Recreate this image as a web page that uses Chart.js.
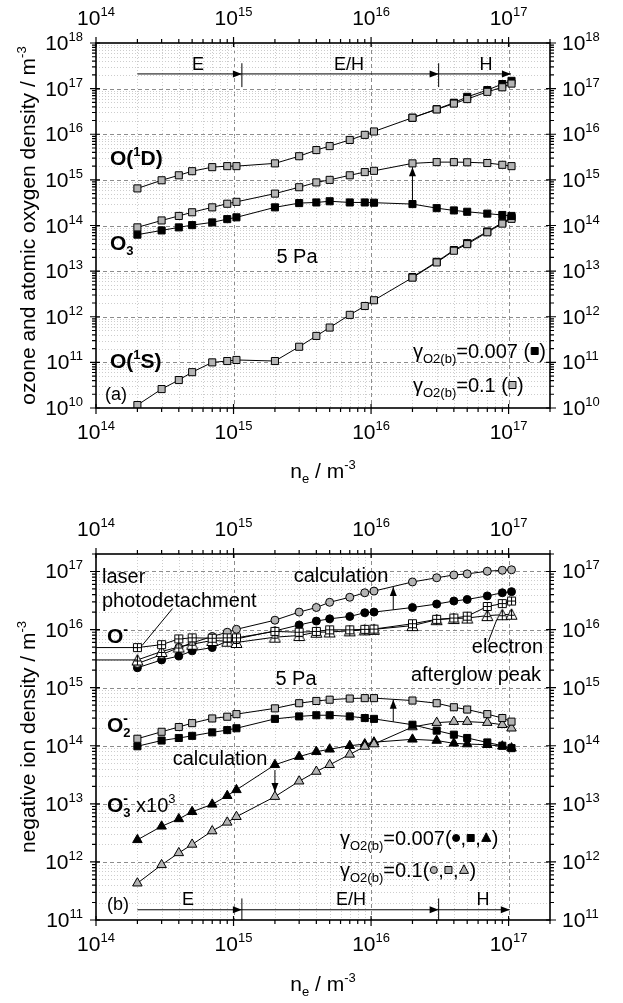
<!DOCTYPE html>
<html>
<head>
<meta charset="utf-8">
<script src="https://cdn.jsdelivr.net/npm/chart.js@4.4.0/dist/chart.umd.min.js"></script>
<style>
  html, body { margin: 0; padding: 0; background: #fff; }
  #wrap { position: relative; width: 623px; height: 1003px; }
  canvas { position: absolute; left: 0; }
  #chartA { top: 0; }
  #chartB { top: 500px; }
</style>
</head>
<body>
<div id="wrap">
  <canvas id="chartA" width="623" height="500" style="width:623px;height:500px"></canvas>
  <canvas id="chartB" width="623" height="503" style="width:623px;height:503px"></canvas>
</div>
<script>
var FONT = '"Liberation Sans", Arial, Helvetica, sans-serif';
var GREY = '#b4b4b4';

// electron density n_e / m^-3 (shared x values)
var ne = [2e14, 3e14, 4e14, 5e14, 7e14, 9e14, 1.05e15, 2e15, 3e15, 4e15, 5e15, 7e15, 9e15,
          1.05e16, 2e16, 3e16, 4e16, 5e16, 7e16, 9e16, 1.05e17];

// (a) gamma = 0.1 (grey) / 0.007 (black)
var o1dGrey = [6.5e14, 9.8e14, 1.26e15, 1.55e15, 1.9e15, 2.0e15, 2.0e15, 2.3e15, 3.3e15, 4.5e15, 5.5e15,
               7.5e15, 9.7e15, 1.15e16, 2.3e16, 3.5e16, 4.7e16, 5.9e16, 8.5e16, 1.07e17, 1.29e17];
var o1dBlack = [null, null, null, null, null, null, null, null, null, null, null, null, null, null,
                2.3e16, 3.55e16, 4.9e16, 6.6e16, 9.3e16, 1.26e17, 1.48e17];
var o3Grey = [9.1e13, 1.29e14, 1.62e14, 1.95e14, 2.5e14, 3.0e14, 3.3e14, 5.0e14, 6.9e14, 8.8e14, 1.0e15,
              1.26e15, 1.48e15, 1.58e15, 2.3e15, 2.45e15, 2.45e15, 2.43e15, 2.34e15, 2.14e15, 2.0e15];
var o3Black = [6.3e13, 7.8e13, 9.1e13, 1.02e14, 1.17e14, 1.38e14, 1.51e14, 2.5e14, 3.1e14, 3.2e14, 3.4e14,
               3.2e14, 3.2e14, 3.16e14, 2.95e14, 2.4e14, 2.14e14, 2.0e14, 1.82e14, 1.7e14, 1.62e14];
var o1sGrey = [1.16e10, 2.6e10, 4.1e10, 6.1e10, 1.0e11, 1.07e11, 1.13e11, 1.07e11, 2.2e11, 3.8e11, 5.8e11,
               1.1e12, 1.72e12, 2.3e12, 7.2e12, 1.55e13, 2.8e13, 3.9e13, 7.1e13, 1.1e14, 1.4e14];
var o1sBlack = [null, null, null, null, null, null, null, null, null, null, null, null, null, null,
                7.4e12, 1.6e13, 2.9e13, 4.1e13, 7.4e13, 1.15e14, 1.5e14];

// (b) negative ions
var oMinusGrey = [2.6e15, 3.7e15, 4.9e15, 5.9e15, 7.6e15, 9.0e15, 1.01e16, 1.45e16, 2.0e16, 2.4e16, 2.95e16,
                  3.6e16, 4.3e16, 4.6e16, 6.6e16, 7.8e16, 8.7e16, 9.1e16, 1.01e17, 1.05e17, 1.07e17];
var oMinusBlack = [2.2e15, 3.0e15, 3.5e15, 4.3e15, 4.9e15, 6.3e15, 6.9e15, 9.5e15, 1.2e16, 1.4e16, 1.53e16,
                   1.68e16, 1.95e16, 2.0e16, 2.4e16, 2.75e16, 3.1e16, 3.3e16, 3.8e16, 4.3e16, 4.5e16];
var oMinusLaser = [4.9e15, 5.5e15, 6.9e15, 7.2e15, 7.1e15, 7.2e15, 7.2e15, 9.3e15, 9.0e15, 9.3e15, 9.9e15,
                   9.9e15, 1.01e16, 1.02e16, 1.26e16, 1.5e16, 1.58e16, 1.7e16, 2.5e16, 2.8e16, 3.1e16];
var oMinusAfterglow = [3.0e15, 4.2e15, 5.0e15, 5.6e15, 6.5e15, 6.3e15, 6.0e15, 7.4e15, 7.9e15, 9.0e15, 9.1e15,
                       9.5e15, 9.9e15, 1.01e16, 1.17e16, 1.48e16, 1.55e16, 1.58e16, 1.74e16, 1.8e16, 1.84e16];
var o2MinusGrey = [1.32e14, 1.74e14, 2.1e14, 2.45e14, 2.95e14, 3.16e14, 3.5e14, 4.4e14, 5.4e14, 5.9e14, 6.2e14,
                   6.5e14, 6.6e14, 6.6e14, 6.0e14, 5.4e14, 4.6e14, 4.2e14, 3.5e14, 3.0e14, 2.6e14];
var o2MinusBlack = [9.8e13, 1.23e14, 1.36e14, 1.48e14, 1.7e14, 1.86e14, 2.0e14, 2.9e14, 3.2e14, 3.35e14, 3.35e14,
                    3.2e14, 3.0e14, 2.9e14, 2.3e14, 1.82e14, 1.55e14, 1.36e14, 1.14e14, 1.0e14, 9.1e13];
var o3MinusBlack = [2.4e12, 4.1e12, 5.5e12, 7.3e12, 9.8e12, 1.38e13, 1.74e13, 4.7e13, 6.5e13, 7.9e13, 8.7e13,
                    1.0e14, 1.07e14, 1.15e14, 1.29e14, 1.23e14, 1.1e14, 1.07e14, 1.04e14, 9.8e13, 9.1e13];
var o3MinusGrey = [4.3e11, 8.9e11, 1.43e12, 2.0e12, 3.4e12, 4.8e12, 6.0e12, 1.33e13, 2.45e13, 3.6e13, 4.7e13,
                   7.1e13, 9.7e13, 1.07e14, 2.1e14, 2.5e14, 2.6e14, 2.6e14, 2.5e14, 2.3e14, 2.0e14];

// axis decades
var xDecades = [14, 15, 16, 17];
var yDecadesA = [10, 11, 12, 13, 14, 15, 16, 17, 18];
var yDecadesB = [11, 12, 13, 14, 15, 16, 17];

// marker images for the measurements
function markImg(kind) {
  var c = document.createElement('canvas');
  c.width = 13; c.height = 13;
  var g = c.getContext('2d');
  g.fillStyle = '#fff'; g.strokeStyle = '#000'; g.lineWidth = 1;
  g.beginPath();
  if (kind === 'sq') {
    g.rect(2.5, 2.5, 8, 8); g.fill(); g.stroke();
    g.beginPath(); g.moveTo(6.5, 2.5); g.lineTo(6.5, 10.5); g.moveTo(2.5, 6.5); g.lineTo(10.5, 6.5); g.stroke();
  } else {
    g.moveTo(6.5, 1); g.lineTo(12, 11.5); g.lineTo(1, 11.5); g.closePath(); g.fill(); g.stroke();
    g.beginPath(); g.moveTo(6.5, 1); g.lineTo(6.5, 11.5); g.moveTo(3.5, 7.5); g.lineTo(9.5, 7.5); g.stroke();
  }
  return c;
}
var sqCross = markImg('sq');
var triCross = markImg('tri');

function pts(ys) {
  return ne.map(function (x, i) { return { x: x, y: ys[i] }; }).filter(function (p) { return p.y != null; });
}
function series(ys, style, fill, r) {
  return {
    data: pts(ys), borderColor: '#000', borderWidth: 1, fill: false, tension: 0,
    pointStyle: style, pointRadius: r, pointBackgroundColor: fill,
    pointBorderColor: '#000', pointBorderWidth: 1
  };
}

// ---- drawing helpers ----
function segFont(s) { return (s.b ? 'bold ' : '') + (s.s || 20) + 'px ' + FONT; }
function drawMark(ctx, m, fill, x, y, r) {
  ctx.save();
  ctx.fillStyle = fill; ctx.strokeStyle = '#000'; ctx.lineWidth = 1;
  ctx.beginPath();
  if (m === 'rect') ctx.rect(x - r, y - r, 2 * r, 2 * r);
  else if (m === 'circle') ctx.arc(x, y, r, 0, Math.PI * 2);
  else { ctx.moveTo(x, y - r * 1.15); ctx.lineTo(x + r, y + r * 0.75); ctx.lineTo(x - r, y + r * 0.75); ctx.closePath(); }
  ctx.fill(); ctx.stroke();
  ctx.restore();
}
function richWidth(ctx, segs) {
  var w = 0;
  segs.forEach(function (s) {
    if (s.m) { w += s.r * 2 + 2; return; }
    ctx.font = segFont(s);
    if (!s.noAdv) w += ctx.measureText(s.t).width;
  });
  return w;
}
function drawRich(ctx, segs, x, y, align) {
  var w = richWidth(ctx, segs);
  var cx = x - (align === 'center' ? w / 2 : align === 'right' ? w : 0);
  ctx.textAlign = 'left'; ctx.textBaseline = 'alphabetic'; ctx.fillStyle = '#000';
  segs.forEach(function (s) {
    if (s.m) { drawMark(ctx, s.m, s.fill, cx + s.r + 1, y - 7, s.r); cx += s.r * 2 + 2; return; }
    ctx.font = segFont(s);
    ctx.fillText(s.t, cx, y + (s.dy || 0));
    if (!s.noAdv) cx += ctx.measureText(s.t).width;
  });
}
function drawPow(ctx, exp, x, y, align) {
  var segs = [{ t: '10', s: 21 }, { t: String(exp), s: 13, dy: -9 }];
  drawRich(ctx, segs, x, y + 7, align);
}
function arrowHead(ctx, x1, y1, x2, y2) {
  var a = Math.atan2(y2 - y1, x2 - x1), L = 9, W = 3.5;
  ctx.beginPath();
  ctx.moveTo(x2, y2);
  ctx.lineTo(x2 - L * Math.cos(a) + W * Math.sin(a), y2 - L * Math.sin(a) - W * Math.cos(a));
  ctx.lineTo(x2 - L * Math.cos(a) - W * Math.sin(a), y2 - L * Math.sin(a) + W * Math.cos(a));
  ctx.closePath(); ctx.fill();
}

var framePlugin = {
  id: 'frame',
  beforeDatasetsDraw: function (chart, args, o) {
    var ctx = chart.ctx, a = chart.chartArea, xs = chart.scales.x, ys = chart.scales.y;
    ctx.save();
    ctx.lineWidth = 1;
    function grid(scale, lo, hi, horiz) {
      for (var e = lo; e <= hi; e++) {
        for (var m = 1; m <= 9; m++) {
          var v = m * Math.pow(10, e);
          if (v <= scale.min * 1.0001 || v >= scale.max * 0.9999) continue;
          var p = Math.round(scale.getPixelForValue(v)) + 0.5;
          ctx.strokeStyle = m === 1 ? '#8c8c8c' : '#cdcdcd';
          ctx.setLineDash(m === 1 ? [4, 3] : [1, 2]);
          ctx.beginPath();
          if (horiz) { ctx.moveTo(a.left, p); ctx.lineTo(a.right, p); }
          else { ctx.moveTo(p, a.top); ctx.lineTo(p, a.bottom); }
          ctx.stroke();
        }
      }
    }
    grid(xs, 13, 17, false);
    grid(ys, o.yDecades[0] - 1, o.yDecades[o.yDecades.length - 1], true);
    ctx.restore();
  },
  afterDraw: function (chart, args, o) {
    var ctx = chart.ctx, a = chart.chartArea, xs = chart.scales.x, ys = chart.scales.y;
    ctx.save();
    ctx.setLineDash([]);
    ctx.strokeStyle = '#000'; ctx.fillStyle = '#000';
    // ticks
    ctx.lineWidth = 1.2;
    ctx.beginPath();
    for (var e = 13; e <= 17; e++) {
      for (var m = 1; m <= 9; m++) {
        var v = m * Math.pow(10, e);
        if (v < xs.min || v > xs.max) continue;
        var px = xs.getPixelForValue(v), big = m === 1;
        ctx.moveTo(px, a.bottom - (big ? 4 : 0)); ctx.lineTo(px, a.bottom + (big ? 6 : 4));
        ctx.moveTo(px, a.top + (big ? 4 : 0)); ctx.lineTo(px, a.top - (big ? 6 : 4));
      }
    }
    for (e = o.yDecades[0] - 1; e <= o.yDecades[o.yDecades.length - 1]; e++) {
      for (m = 1; m <= 9; m++) {
        v = m * Math.pow(10, e);
        if (v < ys.min || v > ys.max) continue;
        var py = ys.getPixelForValue(v);
        big = m === 1;
        ctx.moveTo(a.left + (big ? 4 : 0), py); ctx.lineTo(a.left - (big ? 6 : 4), py);
        ctx.moveTo(a.right - (big ? 4 : 0), py); ctx.lineTo(a.right + (big ? 6 : 4), py);
      }
    }
    ctx.stroke();
    // frame
    ctx.lineWidth = 1.6;
    ctx.strokeRect(a.left, a.top, a.right - a.left, a.bottom - a.top);
    // tick labels
    xDecades.forEach(function (d) {
      var px = xs.getPixelForValue(Math.pow(10, d));
      drawPow(ctx, d, px, a.bottom + 24, 'center');
      drawPow(ctx, d, px, a.top - 25, 'center');
    });
    o.yDecades.forEach(function (d) {
      var py = ys.getPixelForValue(Math.pow(10, d));
      drawPow(ctx, d, a.left - 13, py, 'right');
      drawPow(ctx, d, a.right + 12, py, 'left');
    });
    // axis titles
    drawRich(ctx, [{ t: 'n', s: 21 }, { t: 'e', s: 13, dy: 5 }, { t: ' / m', s: 21 }, { t: '-3', s: 13, dy: -9 }],
      (a.left + a.right) / 2, o.xTitleY, 'center');
    ctx.save();
    ctx.translate(28, (a.top + a.bottom) / 2);
    ctx.rotate(-Math.PI / 2);
    drawRich(ctx, [{ t: o.yTitle, s: 21 }, { t: '-3', s: 13, dy: -9 }], 0, 7, 'center');
    ctx.restore();
    // annotation lines and arrows (in data space)
    ctx.lineWidth = 1;
    ctx.strokeStyle = '#000'; ctx.fillStyle = '#000';
    (o.lines || []).forEach(function (l) {
      ctx.beginPath();
      ctx.moveTo(xs.getPixelForValue(l[0]), ys.getPixelForValue(l[1]));
      ctx.lineTo(xs.getPixelForValue(l[2]), ys.getPixelForValue(l[3]));
      ctx.stroke();
    });
    (o.arrows || []).forEach(function (l) {
      var x1 = xs.getPixelForValue(l[0]), y1 = ys.getPixelForValue(l[1]);
      var x2 = xs.getPixelForValue(l[2]), y2 = ys.getPixelForValue(l[3]);
      ctx.beginPath(); ctx.moveTo(x1, y1); ctx.lineTo(x2, y2); ctx.stroke();
      arrowHead(ctx, x1, y1, x2, y2);
    });
    // text labels
    (o.texts || []).forEach(function (t) { drawRich(ctx, t.segs, t.x, t.y, t.align || 'left'); });
    ctx.restore();
  }
};

function makeChart(id, datasets, yMin, yMax, pad, frameOpts) {
  return new Chart(document.getElementById(id), {
    type: 'line',
    data: { datasets: datasets },
    options: {
      responsive: false,
      animation: false,
      devicePixelRatio: 1,
      layout: { padding: pad },
      scales: {
        x: { type: 'logarithmic', min: 1e14, max: 2e17, display: false },
        y: { type: 'logarithmic', min: yMin, max: yMax, display: false }
      },
      plugins: { legend: { display: false }, tooltip: { enabled: false }, frame: frameOpts }
    },
    plugins: [framePlugin]
  });
}

function gammaLabel(val, marks, spaced) {
  var segs = [{ t: 'γ', s: 20 }, { t: 'O2(b)', s: 13, dy: 5 }, { t: '=' + val + (spaced ? ' (' : '('), s: 20 }];
  marks.forEach(function (mk, i) {
    if (i > 0) segs.push({ t: ',', s: 20 });
    segs.push(mk);
  });
  segs.push({ t: ')', s: 20 });
  return segs;
}

// ---- (a) ---- (Chart.js paints the first dataset on top)
makeChart('chartA', [
  series(o1dGrey, 'rect', GREY, 5),
  series(o1dBlack, 'rect', '#000', 5),
  series(o3Grey, 'rect', GREY, 5),
  series(o3Black, 'rect', '#000', 5),
  series(o1sGrey, 'rect', GREY, 5),
  series(o1sBlack, 'rect', '#000', 5)
], 1e10, 1e18, { left: 96, right: 73, top: 43, bottom: 92 }, {
  yDecades: yDecadesA,
  yTitle: 'ozone and atomic oxygen density / m',
  xTitleY: 478,
  lines: [[1.15e15, 3.6e17, 1.15e15, 1.08e17], [3.1e16, 3.6e17, 3.1e16, 1.08e17]],
  arrows: [[2e14, 2.1e17, 1.15e15, 2.1e17], [1.15e15, 2.1e17, 3.1e16, 2.1e17], [3.1e16, 2.1e17, 1.04e17, 2.1e17],
           [2e16, 3.5e14, 2e16, 1.9e15]],
  texts: [
    { segs: [{ t: 'E', s: 18 }], x: 198, y: 70, align: 'center' },
    { segs: [{ t: 'E/H', s: 18 }], x: 349, y: 70, align: 'center' },
    { segs: [{ t: 'H', s: 18 }], x: 486, y: 70, align: 'center' },
    { segs: [{ t: 'O(', s: 21, b: 1 }, { t: '1', s: 13, b: 1, dy: -9 }, { t: 'D)', s: 21, b: 1 }], x: 110, y: 165 },
    { segs: [{ t: 'O', s: 21, b: 1 }, { t: '3', s: 13, b: 1, dy: 5 }], x: 110, y: 250 },
    { segs: [{ t: '5 Pa', s: 20 }], x: 297, y: 263, align: 'center' },
    { segs: [{ t: 'O(', s: 21, b: 1 }, { t: '1', s: 13, b: 1, dy: -9 }, { t: 'S)', s: 21, b: 1 }], x: 110, y: 368 },
    { segs: [{ t: '(a)', s: 18 }], x: 105, y: 400 },
    { segs: gammaLabel('0.007', [{ m: 'rect', fill: '#000', r: 3.5 }], true), x: 413, y: 358 },
    { segs: gammaLabel('0.1', [{ m: 'rect', fill: GREY, r: 3.5 }], true), x: 413, y: 392 }
  ]
});

// ---- (b) ----
makeChart('chartB', [
  series(oMinusLaser, sqCross, '#fff', 5),
  series(oMinusAfterglow, triCross, '#fff', 5),
  series(oMinusGrey, 'circle', GREY, 4),
  series(oMinusBlack, 'circle', '#000', 4),
  series(o2MinusGrey, 'rect', GREY, 5),
  series(o2MinusBlack, 'rect', '#000', 5),
  series(o3MinusGrey, 'triangle', GREY, 5.5),
  series(o3MinusBlack, 'triangle', '#000', 5.5)
], 1e11, 2e17, { left: 96, right: 73, top: 54, bottom: 83 }, {
  yDecades: yDecadesB,
  yTitle: 'negative ion density / m',
  xTitleY: 491,
  lines: [[1.15e15, 2.35e11, 1.15e15, 1e11], [3.1e16, 2.35e11, 3.1e16, 1e11],
          [1e14, 4.9e15, 2e14, 4.9e15], [1e14, 3.0e15, 2e14, 3.0e15],
          [3.6e14, 2.3e16, 2.16e14, 5.3e15], [7.1e16, 6.1e15, 8.2e16, 1.48e16]],
  arrows: [[2e14, 1.5e11, 1.15e15, 1.5e11], [1.15e15, 1.5e11, 3.1e16, 1.5e11], [3.1e16, 1.5e11, 1.02e17, 1.5e11],
           [1.45e16, 2.2e16, 1.45e16, 5.4e16], [1.45e16, 2.6e14, 1.45e16, 6.2e14], [2e15, 3.8e13, 2e15, 1.6e13]],
  texts: [
    { segs: [{ t: 'laser', s: 20 }], x: 102, y: 83 },
    { segs: [{ t: 'photodetachment', s: 20 }], x: 102, y: 107 },
    { segs: [{ t: 'O', s: 21, b: 1 }, { t: '-', s: 14, b: 1, dy: -9 }], x: 107, y: 143 },
    { segs: [{ t: 'calculation', s: 20 }], x: 341, y: 82, align: 'center' },
    { segs: [{ t: 'electron', s: 20 }], x: 543, y: 153, align: 'right' },
    { segs: [{ t: 'afterglow peak', s: 20 }], x: 541, y: 181, align: 'right' },
    { segs: [{ t: '5 Pa', s: 20 }], x: 296, y: 185, align: 'center' },
    { segs: [{ t: 'O', s: 21, b: 1 }, { t: '-', s: 14, b: 1, dy: -9, noAdv: 1 }, { t: '2', s: 13, b: 1, dy: 5 }], x: 107, y: 232 },
    { segs: [{ t: 'calculation', s: 20 }], x: 220, y: 265, align: 'center' },
    { segs: [{ t: 'O', s: 21, b: 1 }, { t: '-', s: 14, b: 1, dy: -9, noAdv: 1 }, { t: '3', s: 13, b: 1, dy: 5 },
             { t: ' x10', s: 20 }, { t: '3', s: 13, dy: -9 }], x: 107, y: 312 },
    { segs: gammaLabel('0.007', [{ m: 'circle', fill: '#000', r: 3.5 }, { m: 'rect', fill: '#000', r: 3.5 },
                                 { m: 'tri', fill: '#000', r: 4.5 }], false), x: 340, y: 345 },
    { segs: gammaLabel('0.1', [{ m: 'circle', fill: GREY, r: 3.5 }, { m: 'rect', fill: GREY, r: 3.5 },
                               { m: 'tri', fill: GREY, r: 4.5 }], false), x: 340, y: 377 },
    { segs: [{ t: '(b)', s: 18 }], x: 107, y: 410 },
    { segs: [{ t: 'E', s: 18 }], x: 188, y: 405, align: 'center' },
    { segs: [{ t: 'E/H', s: 18 }], x: 351, y: 405, align: 'center' },
    { segs: [{ t: 'H', s: 18 }], x: 483, y: 405, align: 'center' }
  ]
});
</script>
</body>
</html>
